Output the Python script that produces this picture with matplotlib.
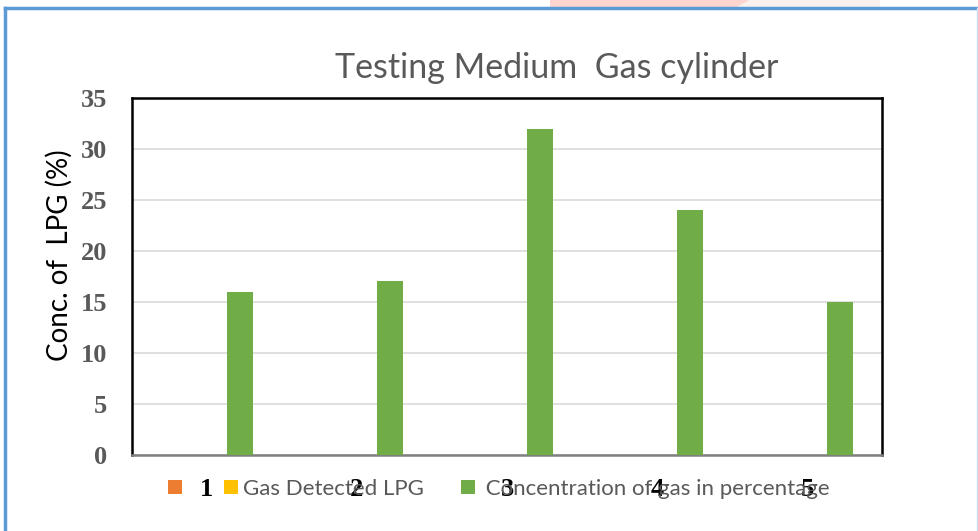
import matplotlib
matplotlib.use("Agg")
import matplotlib.pyplot as plt
import numpy as np
from matplotlib.patches import Patch, Polygon
from matplotlib.lines import Line2D

categories = ["1", "2", "3", "4", "5"]
series_names = ["", "Gas Detected LPG", " Concentration of gas in percentage"]
series_colors = ["#ed7d31", "#ffc000", "#70ad47"]
series1 = [0, 0, 0, 0, 0]
series2 = [0, 0, 0, 0, 0]
series3 = [16, 17, 32, 24, 15]
yticks = [0, 5, 10, 15, 20, 25, 30, 35]

W, H = 979, 531
fig = plt.figure(figsize=(W / 100, H / 100), dpi=100)

# decorative frame
fig.patches.append(Polygon([[550 / W, 1], [750 / W, 1], [735 / W, 1 - 8 / H], [550 / W, 1 - 8 / H]],
                           closed=True, transform=fig.transFigure, facecolor="#ffd5cf", edgecolor="none"))
fig.patches.append(Polygon([[750 / W, 1], [880 / W, 1], [880 / W, 1 - 8 / H], [735 / W, 1 - 8 / H]],
                           closed=True, transform=fig.transFigure, facecolor="#fdf1ef", edgecolor="none"))
fig.lines.append(Line2D([5.5 / W, 1], [1 - 7.5 / H, 1 - 7.5 / H], transform=fig.transFigure, color="#5b9bd5", lw=2.5))
fig.lines.append(Line2D([5.5 / W, 5.5 / W], [0, 1 - 7.5 / H], transform=fig.transFigure, color="#5b9bd5", lw=2.5))
fig.lines.append(Line2D([977.5 / W, 977.5 / W], [0, 1 - 7.5 / H], transform=fig.transFigure, color="#c9dcf2", lw=1))

ax = fig.add_axes([132 / W, 1 - 454.5 / H, 750 / W, (454.5 - 98) / H])
x = np.arange(len(categories))
w = 0.173
off = 0.223
for vals, col, name, o in zip([series1, series2, series3], series_colors, series_names, [-off, 0, off]):
    ax.bar(x + o, vals, width=w, color=col, label=name, zorder=3)

ax.set_xlim(-0.5, len(categories) - 0.5)
ax.set_ylim(0, 35)
ax.set_yticks(yticks)
ax.set_yticklabels([str(v) for v in yticks], fontfamily="Liberation Serif", fontweight="bold",
                   fontsize=19, color="#595959")
ax.set_xticks(x)
ax.set_xticklabels(categories, fontfamily="Liberation Serif", fontweight="bold", fontsize=19, color="black")
ax.tick_params(axis="both", length=0)
ax.tick_params(axis="y", pad=18)
ax.tick_params(axis="x", pad=17)
ax.grid(axis="y", color="#d9d9d9", lw=1.2, zorder=0)
for s in ["left", "top", "right"]:
    ax.spines[s].set_color("black")
    ax.spines[s].set_linewidth(1.8)
ax.spines["bottom"].set_color("#808080")
ax.spines["bottom"].set_linewidth(1.8)

ax.set_ylabel("Conc. of  LPG (%)", fontfamily="Lato", fontsize=20, color="black")
ax.yaxis.set_label_coords(-(132 - 73) / 750, 0.56)

fig.text(557 / W, 1 - 68 / H, "Testing Medium  Gas cylinder", ha="center", va="center",
         fontfamily="Lato", fontsize=24.5, color="#595959")

handles = [Patch(facecolor=c, edgecolor="none") for c in series_colors]
leg = fig.legend(handles, series_names, loc="center", bbox_to_anchor=(499 / W, 1 - 489 / H), ncol=3,
                 frameon=False, prop={"family": "Lato", "size": 16}, handlelength=0.62, handleheight=0.62,
                 handletextpad=0.25, columnspacing=1.65, labelcolor="#595959")

fig.savefig("out.png", dpi=100)
